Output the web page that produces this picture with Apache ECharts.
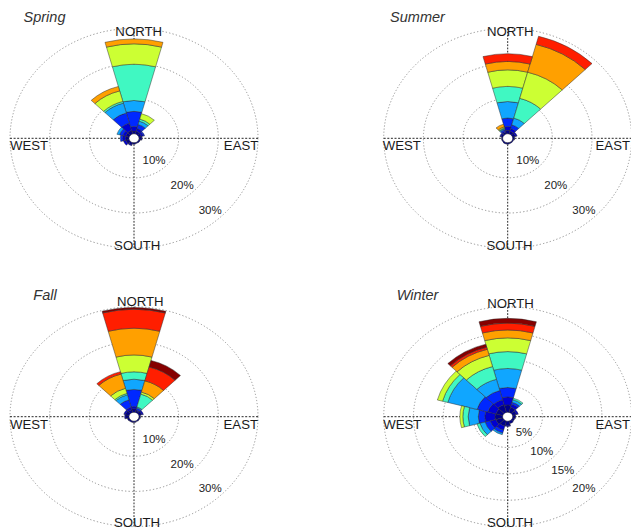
<!DOCTYPE html>
<html><head><meta charset="utf-8">
<script src="https://cdn.jsdelivr.net/npm/echarts@6/dist/echarts.min.js"></script>
<style>
html,body{margin:0;padding:0;background:#fff;}
#wrap{position:relative;width:631px;height:530px;overflow:hidden;background:#fff;}
#geo{position:absolute;left:0;top:0;width:631px;height:598px;transform-origin:0 0;}
#txt{position:absolute;left:0;top:0;width:631px;height:530px;}
</style></head><body>
<div id="wrap"><div id="geo"></div><div id="txt"></div></div>
<script>
// ---------- data ----------
const directions = ['N','30°','60°','E','120°','150°','S','210°','240°','W','300°','330°'];
const seasons = ['Spring','Summer','Fall','Winter'];
const compassLabels = ['NORTH','EAST','SOUTH','WEST'];
const speedClasses = ['c1','c2','c3','c4','c5','c6','c7','c8','c9'];
const classColors = ['#00008C','#0000D2','#0028FF','#10A6FF','#40F8C2','#CCFF33','#FFA000','#FF1E00','#860000'];
const ticksSSF = [10, 20, 30];
const ticksWinter = [5, 10, 15, 20];

// values in % per speed class (rows) and direction (columns)
const spring = [
  [0.8,0.8,0.7,0.6,0.4,0.3,0.4,0.6,0.9,0.9,0.9,1.0],
  [1.3,0.8,0.5,0.2,0,0,0,0.3,0.6,0.7,0.8,2.2],
  [4.3,1.2,0.3,0,0,0,0,0,0,0.6,0.8,3.0],
  [3.1,1.0,0,0,0,0,0,0,0,0,0.7,2.9],
  [10.3,0.6,0,0,0,0,0,0,0,0,0,0.5],
  [5.8,1.6,0,0,0,0,0,0,0,0,0,3.1],
  [1.4,0,0,0,0,0,0,0,0,0,0,1.3],
  [0,0,0,0,0,0,0,0,0,0,0,0],
  [0,0,0,0,0,0,0,0,0,0,0,0]
];
const summer = [
  [1.0,0.8,0.8,0.5,0.3,0.3,0.4,0.4,0.3,0.3,0.5,0.5],
  [1.1,0.8,0.4,0,0,0,0,0,0,0,0.3,0.4],
  [2.4,1.1,0,0,0,0,0,0,0,0,0,0.4],
  [4.7,2.0,0,0,0,0,0,0,0,0,0,0.3],
  [4.3,5.8,0,0,0,0,0,0,0,0,0,0.2],
  [4.7,7.7,0,0,0,0,0,0,0,0,0,0.3],
  [2.4,8.2,0,0,0,0,0,0,0,0,0,0.8],
  [2.2,2.4,0,0,0,0,0,0,0,0,0,0],
  [0,0,0,0,0,0,0,0,0,0,0,0]
];
const fall = [
  [1.0,0.5,0.8,0.4,0.3,0.3,0.4,0.4,0.5,0.8,1.0,0.8],
  [0.6,0.3,0.4,0,0,0,0,0,0,0.3,0.4,0.7],
  [4.9,0.5,0,0,0,0,0,0,0,0,0,2.2],
  [2.9,0.3,0,0,0,0,0,0,0,0,0,1.5],
  [2.1,3.8,0,0,0,0,0,0,0,0,0,0.4],
  [4.8,0.6,0,0,0,0,0,0,0,0,0,1.5],
  [7.6,3.3,0,0,0,0,0,0,0,0,0,4.2],
  [5.4,4.1,0,0,0,0,0,0,0,0,0,0.7],
  [0.5,1.9,0,0,0,0,0,0,0,0,0,0]
];
const winter = [
  [1.4,1.0,0.7,0.5,0.4,0.5,0.8,1.0,1.2,1.3,1.2,1.5],
  [1.5,0.6,0.3,0,0,0,0.2,0.8,1.0,1.7,1.4,1.0],
  [1.8,0.4,0,0,0,0,0,0.6,0.9,1.1,1.9,1.8],
  [3.6,0.5,0,0,0,0,0,0.3,0.9,1.7,5.1,2.2],
  [3.2,0.3,0,0,0,0,0,0,0.5,0.9,0.9,2.5],
  [2.6,0,0,0,0,0,0,0,0,0.5,0.9,2.2],
  [1.5,0,0,0,0,0,0,0,0,0,0,1.2],
  [1.3,0,0,0,0,0,0,0,0,0,0,0.4],
  [0.9,0,0,0,0,0,0,0,0,0,0,0.6]
];
const seasonData = [spring, summer, fall, winter];
const seasonTicks = [ticksSSF, ticksSSF, ticksSSF, ticksWinter];

// ---------- layout ----------
const SY = 530 / 598;               // vertical squeeze of the plot (ellipses)
const R0 = 5, R1 = 124;
const centers = [[134,138.3],[507.7,138.3],[134,416.7],[507.7,416.7]];
const titlePos = [[44.5,16.5],[417.5,16.8],[45,295],[417.5,295]];
// label anchors per panel: NORTH, EAST(right edge), SOUTH, WEST(left edge)
const labelPos = [
  [[138.7,31.3],[258.3,145],[137.2,245],[10,145]],
  [[510.3,31.7],[630,145],[509.5,245],[382.7,145]],
  [[140.3,301.3],[258,424],[137,522],[10,424]],
  [[510.5,303.3],[630,424],[510,522],[383.3,424]]
];
const FONT = '"Liberation Sans", Arial, Helvetica, sans-serif';

document.getElementById('geo').style.transform = 'scaleY(' + SY + ')';

// ---------- geometry chart (squeezed into ellipses) ----------
const geo = echarts.init(document.getElementById('geo'), null, {renderer: 'svg'});
const polar = [], angleAxis = [], radiusAxis = [], series = [];
seasons.forEach((s, i) => {
  const c = [centers[i][0], centers[i][1] / SY];
  const ticks = seasonTicks[i];
  const step = ticks[0], max = ticks[ticks.length - 1];
  const ringColors = ['rgba(0,0,0,0)'].concat(ticks.map(() => '#8c8c8c'));
  // grid polar
  polar.push({center: c, radius: [R0, R1]});
  angleAxis.push({polarIndex: 2*i, type: 'value', min: 0, max: 360, interval: 90, startAngle: 90,
    axisLine: {show: false}, axisTick: {show: false}, axisLabel: {show: false},
    splitLine: {show: true, lineStyle: {color: '#1a1a1a', width: 1, type: [2, 1.6]}}});
  radiusAxis.push({polarIndex: 2*i, type: 'value', min: 0, max: max, interval: step,
    axisLine: {show: false}, axisTick: {show: false}, axisLabel: {show: false},
    splitLine: {show: true, lineStyle: {color: ringColors, width: 1, type: [1.3, 2.2]}}});
  // data polar
  polar.push({center: c, radius: [R0, R1]});
  angleAxis.push({polarIndex: 2*i+1, type: 'category', data: directions, startAngle: 105, boundaryGap: true,
    axisLine: {show: false}, axisTick: {show: false}, axisLabel: {show: false}, splitLine: {show: false}});
  radiusAxis.push({polarIndex: 2*i+1, type: 'value', min: 0, max: max,
    axisLine: {show: false}, axisTick: {show: false}, axisLabel: {show: false}, splitLine: {show: false}});
  seasonData[i].forEach((vals, k) => {
    series.push({
      type: 'bar', coordinateSystem: 'polar', polarIndex: 2*i+1, stack: 'st' + i,
      name: s + ' ' + speedClasses[k],
      data: vals.map(v => v > 0 ? v : '-'),
      barCategoryGap: '0%', silent: true,
      itemStyle: {color: classColors[k], borderColor: '#2b2b2b', borderWidth: 0.5}
    });
  });
});
geo.setOption({animation: false, polar, angleAxis, radiusAxis, series});

// ---------- text chart (not squeezed) ----------
const txt = echarts.init(document.getElementById('txt'), null, {renderer: 'svg'});
const K = Math.sqrt(0.5 + 0.5 * SY * SY);          // ring radius along the label direction
const labAngle = -Math.atan(SY) * 180 / Math.PI;     // label direction in screen space
const tPolar = [], tAngle = [], tRadius = [], graphics = [];
seasons.forEach((s, i) => {
  const ticks = seasonTicks[i];
  tPolar.push({center: centers[i], radius: [R0 * K, R1 * K]});
  tAngle.push({polarIndex: i, type: 'value', min: 0, max: 360, startAngle: labAngle, show: false});
  tRadius.push({polarIndex: i, type: 'value', min: 0, max: ticks[ticks.length-1], interval: ticks[0],
    axisLine: {show: false}, axisTick: {show: false}, splitLine: {show: false},
    axisLabel: {show: true, showMinLabel: false, formatter: '{value}%', margin: 0,
      align: 'right', verticalAlign: 'bottom', fontSize: 11.5, color: '#222', fontFamily: FONT}});
  graphics.push({type: 'text', x: titlePos[i][0], y: titlePos[i][1], silent: true,
    style: {text: s, fill: '#333', fontSize: 14.5, fontStyle: 'italic', fontFamily: FONT,
      align: 'center', verticalAlign: 'middle', textAlign: 'center', textVerticalAlign: 'middle'}});
  const aligns = ['center', 'right', 'center', 'left'];
  compassLabels.forEach((lab, j) => {
    graphics.push({type: 'text', x: labelPos[i][j][0], y: labelPos[i][j][1], silent: true,
      style: {text: lab, fill: '#1a1a1a', fontSize: 13.2, fontFamily: FONT,
        align: aligns[j], verticalAlign: 'middle', textAlign: aligns[j], textVerticalAlign: 'middle'}});
  });
});
txt.setOption({animation: false, polar: tPolar, angleAxis: tAngle, radiusAxis: tRadius, graphic: graphics});
</script>
</body></html>
